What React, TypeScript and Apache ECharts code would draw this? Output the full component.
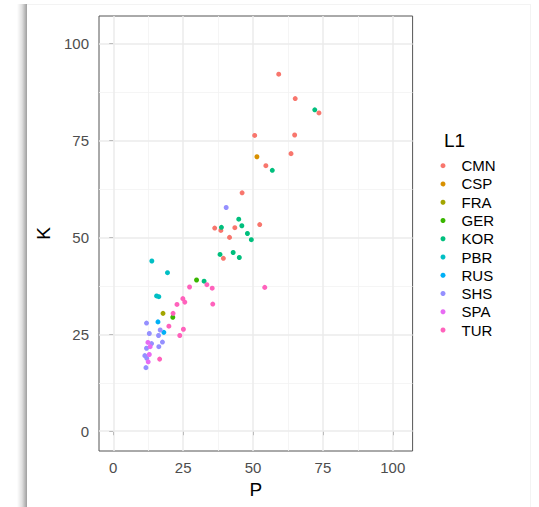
import React, { useEffect, useRef } from "react";
import * as echarts from "echarts";

const groups = ["CMN", "CSP", "FRA", "GER", "KOR", "PBR", "RUS", "SHS", "SPA", "TUR"];
const colors = ["#F8766D", "#D89000", "#A3A500", "#39B600", "#00BF7D", "#00BFC4", "#00B0F6", "#9590FF", "#E76BF3", "#FF62BC"];

const cmn = [[59.2, 92.1], [65.1, 85.8], [73.6, 82.1], [50.6, 76.3], [64.9, 76.4], [63.6, 71.6], [54.6, 68.5], [46.1, 61.5], [36.3, 52.4], [38.5, 51.8], [43.5, 52.5], [52.4, 53.3], [41.6, 50.0], [39.4, 44.6]];
const csp = [[51.4, 70.8]];
const fra = [[17.8, 30.4]];
const ger = [[29.8, 39.0], [21.3, 29.4]];
const kor = [[72.1, 82.9], [56.9, 67.3], [44.9, 54.7], [38.7, 52.6], [46.0, 53.0], [48.0, 51.0], [49.4, 49.4], [38.2, 45.6], [42.9, 46.1], [45.1, 44.8], [32.5, 38.7]];
const pbr = [[13.8, 43.9], [19.4, 40.9], [15.5, 34.9], [16.3, 34.7]];
const rus = [[16.0, 28.2], [18.1, 25.5]];
const shs = [[40.4, 57.7], [11.9, 27.9], [12.9, 25.2], [16.8, 26.1], [16.2, 24.7], [17.6, 23.0], [13.7, 22.6], [11.9, 21.4], [16.3, 21.8], [11.3, 19.5], [12.0, 18.8], [11.7, 16.4]];
const spa = [[12.4, 22.9], [13.2, 21.8], [12.9, 19.8], [12.5, 17.9]];
const tur = [[33.5, 37.8], [27.3, 37.2], [35.4, 36.9], [54.2, 37.1], [24.9, 34.2], [25.6, 33.3], [22.8, 32.7], [35.6, 32.8], [21.4, 30.4], [19.9, 27.1], [25.1, 26.3], [23.8, 24.7], [16.6, 18.6]];
const seriesData = [cmn, csp, fra, ger, kor, pbr, rus, shs, spa, tur];

const xTicks = [0, 25, 50, 75, 100];
const yTicks = [0, 25, 50, 75, 100];
const xMinor = [12.5, 37.5, 62.5, 87.5];
const yMinor = [12.5, 37.5, 62.5, 87.5];

const FONT = "'Liberation Sans', Arial, Helvetica, sans-serif";

export default function App() {
  const ref = useRef<HTMLDivElement>(null);
  useEffect(() => {
    if (!ref.current) return;
    const chart = echarts.init(ref.current, null, { renderer: "svg" });
    const major = { color: "#EBEBEB", width: 1.5, type: "solid" };
    const minor = { color: "#F2F2F2", width: 0.8, type: "solid" };
    const gridLines = [
      ...xMinor.map((v) => ({ xAxis: v, lineStyle: minor })),
      ...yMinor.map((v) => ({ yAxis: v, lineStyle: minor })),
      ...xTicks.map((v) => ({ xAxis: v, lineStyle: major })),
      ...yTicks.map((v) => ({ yAxis: v, lineStyle: major })),
    ];
    const axisCommon = {
      type: "value",
      min: -5.1,
      max: 107.1,
      axisLine: { show: false },
      splitLine: { show: false },
      nameLocation: "middle",
      nameTextStyle: { fontSize: 19, color: "#000", fontFamily: FONT },
    };
    chart.setOption({
      animation: false,
      textStyle: { fontFamily: FONT },
      grid: {
        left: 99,
        top: 16,
        width: 313.6,
        height: 435,
        show: true,
        borderColor: "#555",
        borderWidth: 1,
        backgroundColor: "transparent",
      },
      xAxis: {
        ...axisCommon,
        name: "P",
        nameGap: 28,
        axisTick: { show: true, length: 4, customValues: xTicks, lineStyle: { color: "#333", width: 1 } },
        axisLabel: { customValues: xTicks, color: "#4D4D4D", fontSize: 15, margin: 9, fontFamily: FONT },
      },
      yAxis: {
        ...axisCommon,
        name: "K",
        nameGap: 18,
        axisTick: { show: true, length: 4, customValues: yTicks, lineStyle: { color: "#333", width: 1 } },
        axisLabel: { customValues: yTicks, color: "#4D4D4D", fontSize: 15, margin: 10, fontFamily: FONT },
      },
      legend: {
        data: groups,
        orient: "vertical",
        left: 440.5,
        top: 156.7,
        padding: 0,
        itemWidth: 27,
        itemHeight: 5,
        itemGap: 0.26,
        icon: "circle",
        textStyle: { fontSize: 15, color: "#000", lineHeight: 18, fontFamily: FONT },
      },
      graphic: [
        {
          type: "text",
          x: 444,
          y: 140,
          style: { text: "L1", fill: "#000", font: `19px ${FONT}`, verticalAlign: "middle" },
        },
      ],
      series: [
        {
          name: "_grid",
          type: "scatter",
          data: [],
          z: 1,
          silent: true,
          markLine: {
            silent: true,
            symbol: "none",
            z: 1,
            label: { show: false },
            emphasis: { disabled: true },
            data: gridLines,
          },
        },
        ...groups.map((g, i) => ({
          name: g,
          type: "scatter",
          z: 3,
          symbol: "circle",
          symbolSize: 5,
          itemStyle: { color: colors[i], opacity: 1 },
          data: seriesData[i],
        })),
      ],
    });
    return () => chart.dispose();
  }, []);

  return (
    <div style={{ position: "fixed", left: 0, top: 0, width: 539, height: 507, background: "#fff", overflow: "hidden" }}>
      <div
        style={{
          position: "absolute",
          left: 17,
          top: 4,
          width: 10,
          height: 503,
          background: "linear-gradient(to right, rgba(0,0,0,0), rgba(0,0,0,0.12) 50%, rgba(0,0,0,0.38))",
        }}
      />
      <div
        style={{
          position: "absolute",
          left: 27,
          top: 4,
          width: 503,
          height: 510,
          borderTop: "1px solid #f3f3f3",
          borderRight: "1px solid #f3f3f3",
          background: "#fff",
        }}
      />
      <div ref={ref} style={{ position: "absolute", left: 0, top: 0, width: 539, height: 507 }} />
    </div>
  );
}
